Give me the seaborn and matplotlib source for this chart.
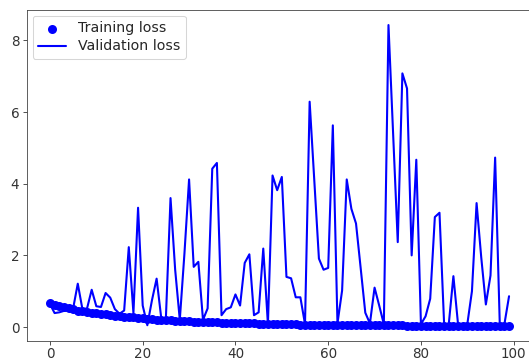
import numpy as np
import pandas as pd
import matplotlib
matplotlib.use("Agg")
import matplotlib.pyplot as plt
import seaborn as sns

# loss values per epoch
epochs = list(range(100))

train_loss = [0.68, 0.62, 0.58, 0.55, 0.52, 0.49, 0.46, 0.44, 0.42, 0.40,
              0.38, 0.36, 0.35, 0.33, 0.32, 0.30, 0.29, 0.28, 0.27, 0.25,
              0.24, 0.23, 0.22, 0.21, 0.20, 0.19, 0.19, 0.18, 0.17, 0.16,
              0.16, 0.15, 0.15, 0.14, 0.14, 0.13, 0.13, 0.12, 0.12, 0.11,
              0.11, 0.11, 0.10, 0.10, 0.10, 0.09, 0.09, 0.09, 0.09, 0.08,
              0.08, 0.08, 0.08, 0.08, 0.07, 0.07, 0.07, 0.07, 0.07, 0.07,
              0.06, 0.06, 0.06, 0.06, 0.06, 0.06, 0.06, 0.05, 0.05, 0.05,
              0.05, 0.05, 0.05, 0.05, 0.05, 0.05, 0.05, 0.04, 0.04, 0.04,
              0.04, 0.04, 0.04, 0.04, 0.04, 0.04, 0.04, 0.04, 0.03, 0.03,
              0.03, 0.03, 0.03, 0.03, 0.03, 0.03, 0.03, 0.03, 0.03, 0.03]

val_loss = [0.64, 0.39, 0.41, 0.45, 0.46, 0.52, 1.21, 0.50, 0.52, 1.04,
            0.58, 0.56, 0.95, 0.82, 0.50, 0.37, 0.46, 2.23, 0.39, 3.33,
            0.60, 0.05, 0.75, 1.35, 0.25, 0.25, 3.60, 1.60, 0.20, 2.05,
            4.12, 1.68, 1.82, 0.20, 0.52, 4.42, 4.58, 0.33, 0.50, 0.55,
            0.91, 0.60, 1.79, 2.03, 0.33, 0.41, 2.19, 0.08, 4.23, 3.82,
            4.19, 1.40, 1.36, 0.83, 0.83, 0.08, 6.29, 4.10, 1.91, 1.60,
            1.65, 5.63, 0.10, 1.02, 4.12, 3.30, 2.89, 1.65, 0.40, 0.10,
            1.10, 0.60, 0.08, 8.43, 5.40, 2.37, 7.08, 6.66, 2.00, 4.67,
            0.08, 0.30, 0.79, 3.07, 3.19, 0.08, 0.08, 1.42, 0.08, 0.08,
            0.08, 1.00, 3.46, 1.95, 0.63, 1.44, 4.73, 0.08, 0.08, 0.86]

df = pd.DataFrame({"epoch": epochs, "train": train_loss, "val": val_loss})

sns.set_style("ticks")
plt.rcParams['font.family'] = ['DejaVu Sans']

fig = plt.figure(figsize=(529 / 75, 361 / 75), dpi=75)
ax = fig.add_axes([27 / 529, 20 / 361, 505 / 529, 331 / 361])

sns.scatterplot(data=df, x="epoch", y="train", color="blue", s=75,
                linewidth=0, label="Training loss", ax=ax)
sns.lineplot(data=df, x="epoch", y="val", color="blue", linewidth=2,
             label="Validation loss", ax=ax)

ax.set_xlabel("")
ax.set_ylabel("")
ax.set_xticks([0, 20, 40, 60, 80, 100])
ax.set_yticks([0, 2, 4, 6, 8])
ax.tick_params(labelsize=13, colors="#333333", length=4)
ax.tick_params(axis="x", pad=2)
for s in ax.spines.values():
    s.set_visible(True)
    s.set_color("#444444")
ax.legend(loc="upper left", fontsize=13.5, borderaxespad=0.4,
          labelspacing=0.3)

fig.savefig("out.png", dpi=75)
